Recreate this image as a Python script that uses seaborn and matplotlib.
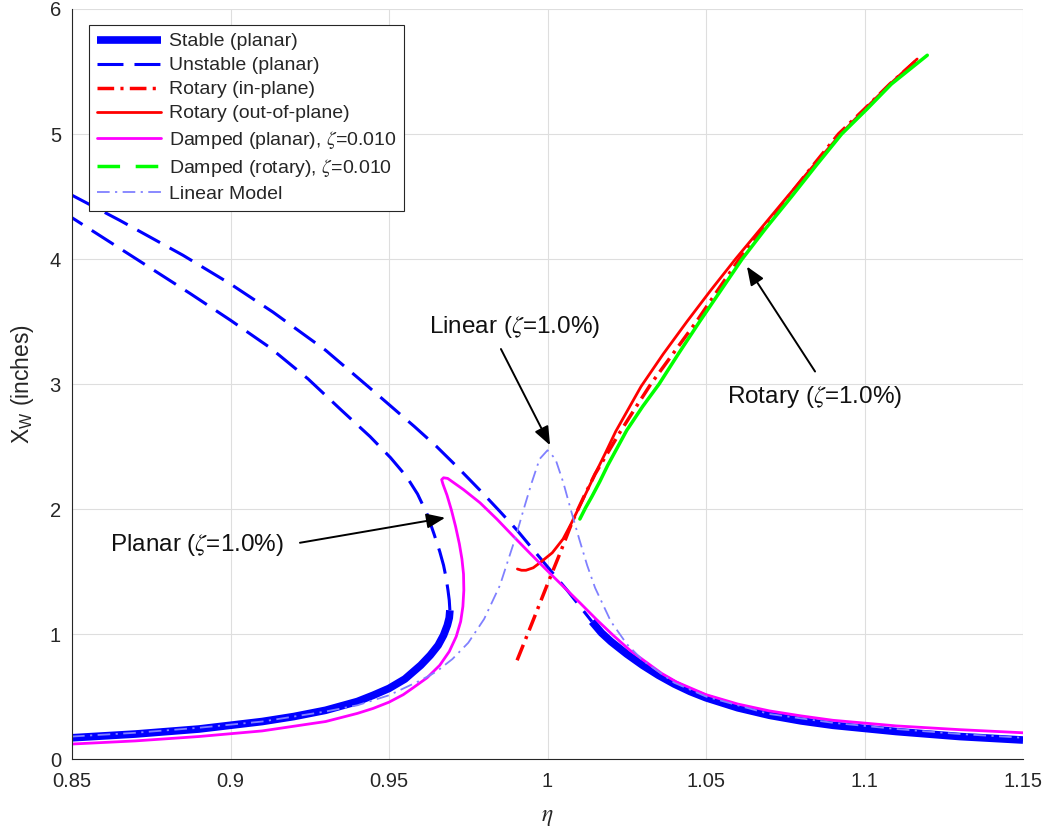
import matplotlib
matplotlib.use("Agg")
import matplotlib.pyplot as plt
from matplotlib.lines import Line2D
import seaborn as sns

# ---------------- data ----------------
eta_stable_lo = [0.85, 0.87, 0.89, 0.91, 0.92, 0.93, 0.94, 0.945, 0.95, 0.955, 0.96, 0.963,
                 0.9655, 0.9672, 0.9684, 0.9690, 0.9692]
x_stable_lo = [0.17, 0.20, 0.24, 0.30, 0.34, 0.39, 0.46, 0.51, 0.565, 0.64, 0.75, 0.83,
               0.91, 0.99, 1.07, 1.13, 1.19]

eta_stable_hi = [1.014, 1.017, 1.02, 1.025, 1.03, 1.035, 1.04, 1.045, 1.05, 1.06, 1.07, 1.08,
                 1.09, 1.11, 1.13, 1.15]
x_stable_hi = [1.10, 1.01, 0.94, 0.84, 0.75, 0.67, 0.60, 0.54, 0.49, 0.41, 0.35, 0.305,
               0.27, 0.22, 0.18, 0.152]

eta_unstable_outer = [0.85, 0.865, 0.885, 0.90, 0.9134, 0.93, 0.9434, 0.958, 0.965, 0.9714,
                      0.9787, 0.985, 0.9904, 0.9986, 1.0062, 1.014]
x_unstable_outer = [4.51, 4.31, 4.03, 3.80, 3.575, 3.27, 2.98, 2.66, 2.50, 2.34,
                    2.15, 1.98, 1.83, 1.58, 1.35, 1.10]

eta_unstable_inner = [0.9692, 0.9690, 0.9686, 0.9680, 0.9672, 0.966, 0.9642, 0.962, 0.959,
                      0.9555, 0.9505, 0.944, 0.935, 0.9245, 0.9125, 0.90, 0.8872, 0.87, 0.85]
x_unstable_inner = [1.19, 1.27, 1.35, 1.45, 1.55, 1.66, 1.80, 1.96, 2.12,
                    2.26, 2.41, 2.58, 2.79, 3.04, 3.29, 3.51, 3.725, 4.005, 4.33]

eta_rot_in = [0.9904, 0.995, 1.0, 1.004, 1.008, 1.0115, 1.015, 1.019, 1.0225, 1.0275, 1.0326,
              1.0398, 1.047, 1.0537, 1.0605, 1.0683, 1.076, 1.0838, 1.0918, 1.1000, 1.108, 1.116]
x_rot_in = [0.79, 1.08, 1.40, 1.65, 1.91, 2.10, 2.28, 2.45, 2.60, 2.80, 3.0,
            3.25, 3.5, 3.75, 4.0, 4.25, 4.5, 4.75, 5.0, 5.20, 5.40, 5.58]

eta_rot_out = [0.9905, 0.9918, 0.9932, 0.9955, 0.9976, 1.0015, 1.0049, 1.0072, 1.0095, 1.0122,
               1.015, 1.0183, 1.0215, 1.0255, 1.0295, 1.0365, 1.044, 1.0515, 1.0593, 1.0675,
               1.0757, 1.084, 1.0925, 1.1005, 1.1085, 1.1166]
x_rot_out = [1.52, 1.51, 1.51, 1.53, 1.57, 1.65, 1.76, 1.87, 1.99, 2.13,
             2.28, 2.45, 2.62, 2.80, 2.98, 3.24, 3.50, 3.75, 4.0, 4.25,
             4.5, 4.75, 5.0, 5.21, 5.41, 5.60]

eta_damped_planar = [0.85, 0.87, 0.89, 0.91, 0.93, 0.94, 0.945, 0.95, 0.9545, 0.9576, 0.962,
                     0.966, 0.969, 0.9712, 0.9726, 0.9733, 0.9736, 0.9735, 0.9730, 0.9722,
                     0.9710, 0.9697, 0.9683, 0.967, 0.9666, 0.9672, 0.9685, 0.971, 0.9735,
                     0.9787, 0.984, 0.9891, 0.9945, 0.9998, 1.005, 1.0102, 1.0155, 1.0207,
                     1.026, 1.0314, 1.036, 1.0408, 1.05, 1.06, 1.07, 1.08, 1.09, 1.11, 1.13, 1.15]
x_damped_planar = [0.12, 0.145, 0.18, 0.225, 0.30, 0.365, 0.405, 0.455, 0.515, 0.57, 0.65,
                   0.75, 0.86, 0.98, 1.10, 1.22, 1.35, 1.48, 1.60, 1.72,
                   1.86, 1.99, 2.11, 2.20, 2.235, 2.25, 2.245, 2.20, 2.155,
                   2.05, 1.92, 1.785, 1.645, 1.51, 1.38, 1.25, 1.115, 0.99,
                   0.87, 0.77, 0.685, 0.615, 0.515, 0.44, 0.385, 0.345, 0.31, 0.265, 0.235, 0.21]

eta_damped_rot = [1.0102, 1.012, 1.014, 1.0165, 1.019, 1.022, 1.025, 1.030, 1.0352, 1.0415,
                  1.048, 1.0547, 1.0614, 1.069, 1.077, 1.0848, 1.0928, 1.1008, 1.1085, 1.1198]
x_damped_rot = [1.92, 2.01, 2.10, 2.22, 2.35, 2.49, 2.63, 2.82, 3.0, 3.25,
                3.5, 3.75, 4.0, 4.25, 4.5, 4.75, 5.0, 5.20, 5.40, 5.63]

eta_linear = [0.85, 0.87, 0.89, 0.91, 0.93, 0.94, 0.95, 0.96, 0.965, 0.97, 0.975, 0.98,
              0.985, 0.99, 0.9925, 0.995, 0.9975, 1.0, 1.0025, 1.005, 1.0075, 1.01, 1.0125,
              1.015, 1.02, 1.025, 1.03, 1.04, 1.05, 1.07, 1.09, 1.11, 1.13, 1.15]
x_linear = [0.18, 0.21, 0.25, 0.30, 0.38, 0.43, 0.51, 0.63, 0.70, 0.80, 0.93, 1.12,
            1.39, 1.78, 2.00, 2.21, 2.40, 2.47, 2.40, 2.21, 1.98, 1.76, 1.55,
            1.37, 1.10, 0.92, 0.79, 0.61, 0.50, 0.36, 0.29, 0.24, 0.20, 0.17]

legend_labels = ["Stable (planar)", "Unstable (planar)", "Rotary (in-plane)",
                 "Rotary (out-of-plane)", "Damped (planar), $\\zeta$=0.010",
                 "Damped (rotary), $\\zeta$=0.010", "Linear Model"]

xtick_vals = [0.85, 0.9, 0.95, 1.0, 1.05, 1.1, 1.15]
xtick_labels = ["0.85", "0.9", "0.95", "1", "1.05", "1.1", "1.15"]
ytick_vals = [0, 1, 2, 3, 4, 5, 6]

# ---------------- style ----------------
sns.set_style("white")
plt.rcParams["font.family"] = ["Liberation Sans", "DejaVu Sans"]
plt.rcParams["mathtext.fontset"] = "stix"

BLUE = "#0000ff"
RED = "#ff0000"
MAGENTA = "#ff00ff"
GREEN = "#00ff00"
LIGHT = "#8080ff"

STY_STABLE = dict(color=BLUE, linewidth=5.5, solid_capstyle="butt", solid_joinstyle="round")
STY_UNSTABLE = dict(color=BLUE, linewidth=2.2, linestyle=(0, (8.5, 3.6)), dash_capstyle="butt")
STY_ROT_IN = dict(color=RED, linewidth=2.5, linestyle=(0, (4.8, 1.8, 0.9, 1.8)))
STY_ROT_OUT = dict(color=RED, linewidth=2.0)
STY_DPLANAR = dict(color=MAGENTA, linewidth=2.0)
STY_DROT = dict(color=GREEN, linewidth=2.5)
STY_LINEAR = dict(color=LIGHT, linewidth=1.3, linestyle=(0, (7, 3, 1.2, 3)))

fig = plt.figure(figsize=(10.5, 8.33), dpi=100)
ax = fig.add_axes([0.0686, 0.0888, 0.9057, 0.9004])


def draw(xs, ys, style):
    sns.lineplot(x=xs, y=ys, ax=ax, sort=False, estimator=None, legend=False, **style)


draw(eta_stable_lo, x_stable_lo, STY_STABLE)
draw(eta_stable_hi, x_stable_hi, STY_STABLE)
draw(eta_unstable_outer, x_unstable_outer, STY_UNSTABLE)
draw(eta_unstable_inner, x_unstable_inner, STY_UNSTABLE)
draw(eta_rot_in, x_rot_in, STY_ROT_IN)
draw(eta_rot_out, x_rot_out, STY_ROT_OUT)
draw(eta_damped_planar, x_damped_planar, STY_DPLANAR)
draw(eta_damped_rot, x_damped_rot, STY_DROT)
draw(eta_linear, x_linear, STY_LINEAR)

# ---------------- axes ----------------
ax.set_xlim(0.85, 1.15)
ax.set_ylim(0, 6)
ax.set_xticks(xtick_vals)
ax.set_xticklabels(xtick_labels)
ax.set_yticks(ytick_vals)
ax.set_yticklabels([str(v) for v in ytick_vals])
ax.grid(True, color="#dedede", linewidth=0.8)
ax.set_axisbelow(True)
for s in ["top", "right"]:
    ax.spines[s].set_visible(False)
for s in ["left", "bottom"]:
    ax.spines[s].set_color("#262626")
    ax.spines[s].set_linewidth(0.8)
ax.tick_params(axis="both", direction="in", length=7, width=0.8, color="#262626",
               labelsize=14.5, labelcolor="#262626")
ax.tick_params(axis="x", pad=9)
ax.tick_params(axis="y", pad=8)
ax.set_xlabel("$\\eta$", fontsize=17, labelpad=11, color="#262626")
ax.set_ylabel("X$_\\mathregular{W}$ (inches)", fontsize=16.5, labelpad=10, color="#262626")

# ---------------- legend ----------------
handles = [
    Line2D([], [], **STY_STABLE),
    Line2D([], [], **STY_UNSTABLE),
    Line2D([], [], **STY_ROT_IN),
    Line2D([], [], **STY_ROT_OUT),
    Line2D([], [], **STY_DPLANAR),
    Line2D([], [], color=GREEN, linewidth=2.5, linestyle=(0, (6.5, 4.5))),
    Line2D([], [], **STY_LINEAR),
]
leg = ax.legend(handles, legend_labels, loc="upper left", bbox_to_anchor=(0.0179, 0.9787),
                borderaxespad=0, fontsize=14, handlelength=3.3, handletextpad=0.4,
                labelspacing=0.33, borderpad=0.4, fancybox=False, framealpha=1)
leg.get_frame().set_edgecolor("#262626")
leg.get_frame().set_linewidth(0.8)

# ---------------- annotations ----------------
TXT = dict(fontsize=17.5, ha="center", va="center", color="#111111")
ARW = dict(arrowstyle="-|>,head_length=0.75,head_width=0.3", color="black", lw=1.4,
           mutation_scale=15, shrinkA=0, shrinkB=0)

ax.text(0.9897, 3.46, "Linear ($\\zeta$=1.0%)", **TXT)
ax.annotate("", xy=(1.0008, 2.51), xytext=(0.9853, 3.28), arrowprops=ARW)

ax.text(1.0844, 2.90, "Rotary ($\\zeta$=1.0%)", **TXT)
ax.annotate("", xy=(1.0629, 3.94), xytext=(1.0844, 3.10), arrowprops=ARW)

ax.text(0.8894, 1.71, "Planar ($\\zeta$=1.0%)", **TXT)
ax.annotate("", xy=(0.9677, 1.93), xytext=(0.9219, 1.73), arrowprops=ARW)

fig.savefig("out.png", dpi=100)
